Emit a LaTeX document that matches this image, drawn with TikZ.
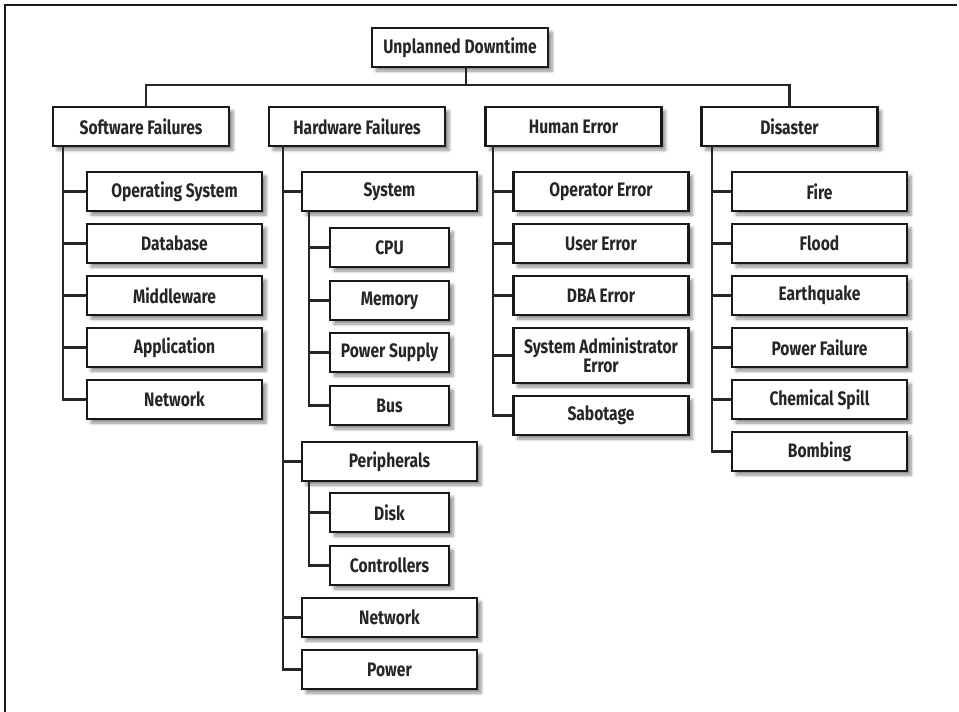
\documentclass[tikz,border=0pt]{standalone}
\usepackage{fontspec}
\newfontfamily\boxfont[FakeStretch=0.8]{Fira Sans}
\usetikzlibrary{shadows.blur}
\tikzset{
  box/.style={draw=black!90, line width=2.6pt, fill=white, inner sep=0pt,
    minimum height=39pt, align=center,
    font=\boxfont\bfseries\fontsize{19.5pt}{19pt}\selectfont, text=black!85,
    blur shadow={shadow xshift=4pt, shadow yshift=-4pt, shadow blur steps=6,
      shadow blur radius=3pt, shadow opacity=45}},
  wide/.style={minimum width=175pt},
  narrow/.style={minimum width=119pt},
  conn/.style={draw=black!85, line width=2.2pt},
  frame/.style={draw=black!90, line width=2pt}
}
\begin{document}
\begin{tikzpicture}[x=1pt,y=-1pt]
\useasboundingbox (0,0) rectangle (959,712);
\draw[frame] (5,712) -- (5,5) -- (957,5);

% top level
\node[box, minimum width=176pt] (root) at (460,47.5) {Unplanned Downtime};
\node[box, minimum width=176pt] (sw) at (141,126.5) {Software Failures};
\node[box, minimum width=176pt] (hw) at (357,126.5) {Hardware Failures};
\node[box, minimum width=176pt] (he) at (573.5,126.5) {Human Error};
\node[box, minimum width=176pt] (di) at (789.5,126.5) {Disaster};

% software
\node[box, wide] (sw1) at (174.5,191.5) {Operating System};
\node[box, wide] (sw2) at (174.5,243.5) {Database};
\node[box, wide] (sw3) at (174.5,295.5) {Middleware};
\node[box, wide] (sw4) at (174.5,347.5) {Application};
\node[box, wide] (sw5) at (174.5,399.5) {Network};

% hardware
\node[box, wide] (hw1) at (389.5,191.5) {System};
\node[box, narrow] (cpu) at (389.5,247.5) {CPU};
\node[box, narrow] (mem) at (389.5,300.5) {Memory};
\node[box, narrow] (psu) at (389.5,352.5) {Power Supply};
\node[box, narrow] (bus) at (389.5,405.5) {Bus};
\node[box, wide] (hw2) at (389.5,461.5) {Peripherals};
\node[box, narrow] (disk) at (389.5,512.5) {Disk};
\node[box, narrow] (ctrl) at (389.5,565.5) {Controllers};
\node[box, wide] (hw3) at (389.5,617.5) {Network};
\node[box, wide] (hw4) at (389.5,669.5) {Power};

% human error
\node[box, wide] (he1) at (601,191.5) {Operator Error};
\node[box, wide] (he2) at (601,243.5) {User Error};
\node[box, wide] (he3) at (601,295.5) {DBA Error};
\node[box, wide, minimum height=55pt] (he4) at (601,355.5) {System Administrator\\Error};
\node[box, wide] (he5) at (601,415.5) {Sabotage};

% disaster
\node[box, wide] (di1) at (819.5,191.5) {Fire};
\node[box, wide] (di2) at (819.5,243.5) {Flood};
\node[box, wide] (di3) at (819.5,295.5) {Earthquake};
\node[box, wide] (di4) at (819.5,347.5) {Power Failure};
\node[box, wide] (di5) at (819.5,399.5) {Chemical Spill};
\node[box, wide] (di6) at (819.5,451.5) {Bombing};

% top connectors
\coordinate (rootstem) at (466,67);
\coordinate (swstem) at (146,107);
\draw[conn] (rootstem) -- (466,85);
\draw[conn] (swstem) |- (di.north |- 0,85) -- (di.north);

% trunk coordinates
\coordinate (swt) at (63,146);
\coordinate (hwt) at (283,146);
\coordinate (syst) at (309,211);
\coordinate (pert) at (309,481);
\coordinate (het) at (493,146);
\coordinate (dit) at (712,146);

\foreach \n in {sw1,sw2,sw3,sw4,sw5} \draw[conn] (swt) |- (\n.west);
\foreach \n in {hw1,hw2,hw3,hw4} \draw[conn] (hwt) |- (\n.west);
\foreach \n in {cpu,mem,psu,bus} \draw[conn] (syst) |- (\n.west);
\foreach \n in {disk,ctrl} \draw[conn] (pert) |- (\n.west);
\foreach \n in {he1,he2,he3,he4,he5} \draw[conn] (het) |- (\n.west);
\foreach \n in {di1,di2,di3,di4,di5,di6} \draw[conn] (dit) |- (\n.west);
\end{tikzpicture}
\end{document}
